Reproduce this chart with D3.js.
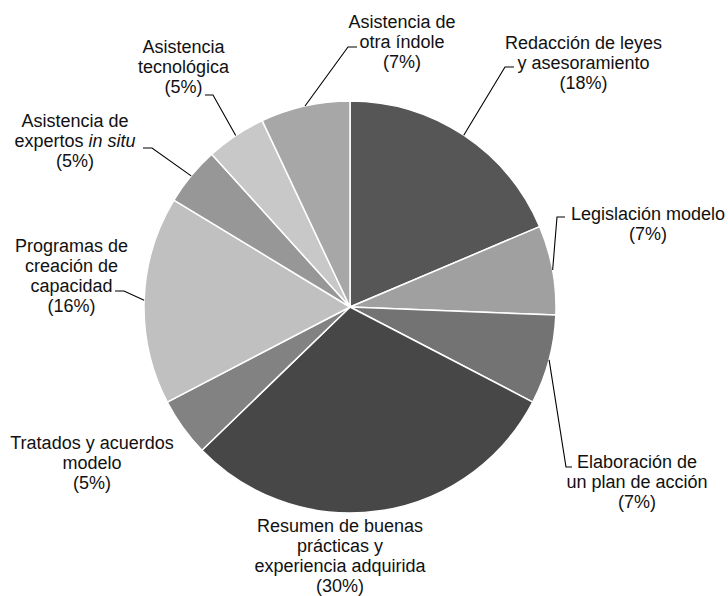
<!DOCTYPE html>
<html>
<head>
<meta charset="utf-8">
<script src="https://cdn.jsdelivr.net/npm/d3@7"></script>
<style>
  html, body { margin: 0; padding: 0; background: #fff; }
  svg { display: block; }
</style>
</head>
<body>
<svg id="chart" width="728" height="596"></svg>
<script>
// ---- data ----
const categories = [
  "Redacción de leyes\ny asesoramiento",
  "Legislación modelo",
  "Elaboración de\nun plan de acción",
  "Resumen de buenas\nprácticas y\nexperiencia adquirida",
  "Tratados y acuerdos\nmodelo",
  "Programas de\ncreación de\ncapacidad",
  "Asistencia de\nexpertos *in situ*",
  "Asistencia\ntecnológica",
  "Asistencia de\notra índole"
];
const values = [18.6, 7.0, 7.0, 30.1, 4.6, 16.3, 4.6, 4.7, 7.0];
const pctLabels = ["18%", "7%", "7%", "30%", "5%", "16%", "5%", "5%", "7%"];

// ---- styles / layout (not data) ----
const colors = ["#565656", "#a0a0a0", "#737373", "#474747", "#828282", "#c0c0c0", "#979797", "#c8c8c8", "#a7a7a7"];
const cx = 350, cy = 307, radius = 206;
const fontSize = 18, lineH = 20;
// label text anchor (center x, first baseline y) and leader (start x, y, knee x) or null
const labelLayout = [
  { x: 583.5, y: 49,  leader: [514, 67, 505] },
  { x: 648,   y: 220, leader: [565, 217, 557] },
  { x: 637,   y: 468, leader: [572, 467, 566] },
  { x: 340,   y: 532, leader: null },
  { x: 92,    y: 449, leader: null },
  { x: 71.5,  y: 252, leader: [115, 291, 124] },
  { x: 75,    y: 127, leader: [143, 148, 152] },
  { x: 183.5, y: 53,  leader: [205, 95, 213] },
  { x: 402,   y: 28,  leader: [357, 47, 348] }
];

const svg = d3.select("#chart");
const g = svg.append("g").attr("transform", `translate(${cx},${cy})`);

const pie = d3.pie().sort(null).value(d => d)(values);
const arc = d3.arc().innerRadius(0).outerRadius(radius);
const edgeArc = d3.arc().innerRadius(radius).outerRadius(radius);

g.selectAll("path.slice")
  .data(pie)
  .join("path")
  .attr("class", "slice")
  .attr("d", arc)
  .attr("fill", (d, i) => colors[i])
  .attr("stroke", "#ffffff")
  .attr("stroke-width", 1.5)
  .attr("stroke-linejoin", "round");

// leader lines
pie.forEach((d, i) => {
  const L = labelLayout[i].leader;
  if (!L) return;
  const [ex, ey] = edgeArc.centroid(d);
  const pts = [[L[0], L[1]], [L[2], L[1]], [cx + ex, cy + ey]];
  svg.append("path")
    .attr("d", d3.line()(pts))
    .attr("fill", "none")
    .attr("stroke", "#000")
    .attr("stroke-width", 1.1);
});

// labels
categories.forEach((name, i) => {
  const lay = labelLayout[i];
  const lines = name.split("\n").concat(["(" + pctLabels[i] + ")"]);
  const t = svg.append("text")
    .attr("text-anchor", "middle")
    .attr("font-family", "'Liberation Sans', Arial, sans-serif")
    .attr("font-size", fontSize)
    .attr("fill", "#111");
  lines.forEach((ln, j) => {
    const line = t.append("tspan").attr("x", lay.x).attr("y", lay.y + j * lineH);
    const parts = ln.split("*");
    parts.forEach((p, k) => {
      if (!p) return;
      line.append("tspan").attr("font-style", k % 2 === 1 ? "italic" : "normal").text(p);
    });
  });
});
</script>
</body>
</html>
